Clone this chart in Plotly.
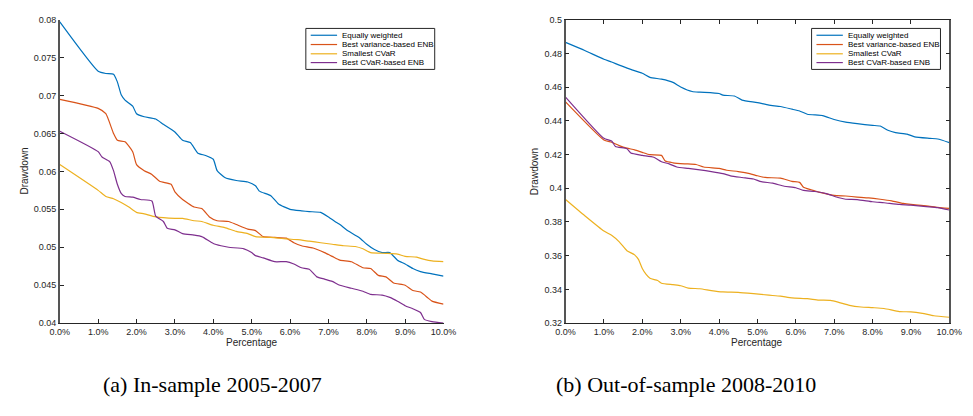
import plotly.graph_objects as go

W, H = 973, 416

series_names = ["Equally weighted", "Best variance-based ENB", "Smallest CVaR", "Best CVaR-based ENB"]
colors = ["#0072BD", "#D95319", "#EDB120", "#7E2F8E"]

x_ticks = [0, 1, 2, 3, 4, 5, 6, 7, 8, 9, 10]
x_tick_labels = ["0.0%", "1.0%", "2.0%", "3.0%", "4.0%", "5.0%", "6.0%", "7.0%", "8.0%", "9.0%", "10.0%"]
left_y_ticks = [0.04, 0.045, 0.05, 0.055, 0.06, 0.065, 0.07, 0.075, 0.08]
left_y_labels = ["0.04", "0.045", "0.05", "0.055", "0.06", "0.065", "0.07", "0.075", "0.08"]
right_y_ticks = [0.32, 0.34, 0.36, 0.38, 0.40, 0.42, 0.44, 0.46, 0.48, 0.50]
right_y_labels = ["0.32", "0.34", "0.36", "0.38", "0.4", "0.42", "0.44", "0.46", "0.48", "0.5"]

# ---- (a) In-sample 2005-2007 ----
in_eq_x = [0, 1.0, 1.2, 1.4, 1.5, 1.6, 1.7, 1.9, 2.0, 2.2, 2.5, 2.7, 3.0, 3.2, 3.4, 3.6, 3.8, 4.0, 4.1, 4.3, 4.6, 4.9,
           5.1, 5.2, 5.5, 5.7, 6.0, 6.3, 6.5, 6.8, 7.0, 7.2, 7.3, 7.5, 7.8, 8.0, 8.2, 8.4, 8.6, 8.8, 9.0, 9.2, 9.4, 9.7, 10.0]
in_eq_y = [0.0797, 0.0732, 0.0729, 0.0728, 0.0718, 0.0701, 0.0694, 0.0686, 0.0676, 0.0672, 0.0669, 0.0662, 0.0652,
           0.0641, 0.0638, 0.0624, 0.0621, 0.0616, 0.0601, 0.0592, 0.0588, 0.0586, 0.0581, 0.0574, 0.0568, 0.0557,
           0.0550, 0.0548, 0.0547, 0.0546, 0.0540, 0.0533, 0.0530, 0.0522, 0.0513, 0.0504, 0.0497, 0.0493, 0.0493,
           0.0483, 0.0478, 0.0472, 0.0468, 0.0465, 0.0462]

in_var_x = [0, 1.0, 1.2, 1.4, 1.5, 1.7, 1.9, 2.0, 2.2, 2.4, 2.6, 2.9, 3.0, 3.2, 3.5, 3.7, 3.9, 4.1, 4.4, 4.6, 4.9, 5.1,
            5.3, 5.6, 5.9, 6.1, 6.3, 6.6, 6.9, 7.1, 7.3, 7.6, 7.9, 8.1, 8.3, 8.5, 8.7, 9.0, 9.2, 9.4, 9.6, 9.7, 10.0]
in_var_y = [0.0695, 0.0683, 0.0676, 0.0650, 0.0641, 0.0639, 0.0626, 0.0609, 0.0601, 0.0596, 0.0587, 0.0583, 0.0573,
            0.0563, 0.0553, 0.0551, 0.0540, 0.0535, 0.0534, 0.0530, 0.0524, 0.0522, 0.0514, 0.0513, 0.0512, 0.0506,
            0.0502, 0.0499, 0.0493, 0.0488, 0.0483, 0.0481, 0.0473, 0.0472, 0.0463, 0.0461, 0.0453, 0.0450, 0.0443,
            0.0441, 0.0433, 0.0429, 0.0425]

in_cvar_x = [0, 1.0, 1.2, 1.4, 1.6, 1.8, 2.0, 2.2, 2.5, 3.0, 3.2, 3.5, 3.7, 4.0, 4.3, 4.6, 4.9, 5.1, 5.5, 5.9, 6.2,
             6.5, 6.8, 7.1, 7.4, 7.7, 7.9, 8.1, 8.5, 8.8, 9.0, 9.3, 9.5, 9.7, 10.0]
in_cvar_y = [0.0609, 0.0575, 0.0567, 0.0564, 0.0559, 0.0553, 0.0546, 0.0544, 0.0540, 0.0538, 0.0538, 0.0535, 0.0534,
             0.0529, 0.0526, 0.0521, 0.0518, 0.0514, 0.0513, 0.0511, 0.0510, 0.0508, 0.0506, 0.0504, 0.0502, 0.0501,
             0.0498, 0.0493, 0.0492, 0.0491, 0.0488, 0.0487, 0.0484, 0.0482, 0.0481]

in_cenb_x = [0, 1.0, 1.1, 1.3, 1.4, 1.5, 1.6, 1.7, 1.9, 2.1, 2.4, 2.5, 2.7, 2.8, 3.0, 3.2, 3.5, 3.7, 4.0, 4.2, 4.4, 4.8,
             5.0, 5.1, 5.3, 5.6, 5.9, 6.1, 6.3, 6.5, 6.7, 6.9, 7.1, 7.3, 7.6, 7.9, 8.1, 8.4, 8.6, 8.8, 9.0, 9.2, 9.4,
             9.5, 9.7, 10.0]
in_cenb_y = [0.0653, 0.0626, 0.0619, 0.0613, 0.0601, 0.0583, 0.0571, 0.0567, 0.0566, 0.0563, 0.0561, 0.0541, 0.0534,
             0.0525, 0.0523, 0.0518, 0.0516, 0.0514, 0.0505, 0.0502, 0.0500, 0.0498, 0.0493, 0.0489, 0.0486, 0.0481,
             0.0481, 0.0478, 0.0473, 0.0471, 0.0461, 0.0458, 0.0455, 0.0450, 0.0446, 0.0442, 0.0438, 0.0437, 0.0434,
             0.0429, 0.0423, 0.0419, 0.0414, 0.0405, 0.0402, 0.0400]

# ---- (b) Out-of-sample 2008-2010 ----
out_eq_x = [0, 0.5, 1.0, 1.2, 1.4, 1.7, 2.0, 2.2, 2.5, 2.8, 3.0, 3.3, 3.5, 4.0, 4.1, 4.4, 4.6, 5.0, 5.3, 5.6, 5.9, 6.1,
            6.3, 6.7, 7.0, 7.3, 7.6, 8.0, 8.2, 8.4, 8.6, 8.9, 9.1, 9.5, 9.7, 10.0]
out_eq_y = [0.4865, 0.4817, 0.4765, 0.4749, 0.4730, 0.4705, 0.4682, 0.4658, 0.4647, 0.4628, 0.4601, 0.4574, 0.4570,
            0.4562, 0.4552, 0.4547, 0.4523, 0.4508, 0.4493, 0.4485, 0.4469, 0.4458, 0.4439, 0.4431, 0.4408, 0.4392,
            0.4383, 0.4373, 0.4369, 0.4344, 0.4330, 0.4321, 0.4305, 0.4296, 0.4292, 0.4271]

out_var_x = [0, 1.0, 1.2, 1.4, 1.6, 1.8, 2.0, 2.2, 2.5, 2.6, 2.8, 3.1, 3.4, 3.6, 4.0, 4.2, 4.5, 4.8, 5.0, 5.2, 5.6, 5.9,
             6.1, 6.2, 6.4, 6.6, 7.0, 7.3, 7.6, 7.9, 8.2, 8.5, 8.8, 9.0, 9.4, 9.7, 10.0]
out_var_y = [0.4512, 0.4286, 0.4273, 0.4253, 0.4238, 0.4228, 0.4213, 0.4199, 0.4195, 0.4161, 0.4151, 0.4145, 0.4141,
             0.4126, 0.4118, 0.4107, 0.4099, 0.4087, 0.4074, 0.4064, 0.4060, 0.4041, 0.4035, 0.4006, 0.3991, 0.3977,
             0.3958, 0.3954, 0.3948, 0.3943, 0.3935, 0.3925, 0.3910, 0.3904, 0.3896, 0.3887, 0.3881]

out_cvar_x = [0, 0.5, 1.0, 1.2, 1.4, 1.6, 1.8, 1.9, 2.0, 2.1, 2.2, 2.4, 2.5, 2.8, 3.0, 3.2, 3.5, 3.8, 4.1, 4.5, 4.9, 5.3,
              5.6, 5.9, 6.3, 6.6, 6.9, 7.1, 7.4, 7.7, 8.0, 8.3, 8.7, 9.0, 9.3, 9.6, 10.0]
out_cvar_y = [0.3933, 0.3837, 0.3746, 0.3721, 0.3682, 0.3630, 0.3605, 0.3578, 0.3524, 0.3489, 0.3466, 0.3453, 0.3437,
              0.3428, 0.3422, 0.3408, 0.3404, 0.3393, 0.3385, 0.3383, 0.3375, 0.3366, 0.3360, 0.3350, 0.3345, 0.3337,
              0.3335, 0.3325, 0.3306, 0.3296, 0.3292, 0.3287, 0.3269, 0.3267, 0.3258, 0.3244, 0.3235]

out_cenb_x = [0, 1.0, 1.2, 1.3, 1.6, 1.7, 2.0, 2.3, 2.5, 2.7, 2.9, 3.2, 3.5, 3.8, 4.1, 4.3, 4.6, 4.9, 5.1, 5.4, 5.7,
              6.0, 6.2, 6.5, 6.8, 7.1, 7.3, 7.6, 8.0, 8.3, 8.7, 9.0, 9.4, 9.7, 10.0]
out_cenb_y = [0.4541, 0.4296, 0.4280, 0.4248, 0.4234, 0.4209, 0.4195, 0.4184, 0.4157, 0.4145, 0.4126, 0.4118, 0.4109,
              0.4099, 0.4087, 0.4074, 0.4064, 0.4055, 0.4039, 0.4030, 0.4012, 0.4003, 0.3987, 0.3981, 0.3968, 0.3945,
              0.3935, 0.3933, 0.3920, 0.3914, 0.3904, 0.3900, 0.3891, 0.3885, 0.3871]

captions = ["(a) In-sample 2005-2007", "(b) Out-of-sample 2008-2010"]
x_title = "Percentage"
y_title = "Drawdown"


def px(x):
    return x / W


def py(y):
    return 1 - y / H


TICK_FONT = dict(family="Liberation Sans, Arial, sans-serif", size=9, color="#262626")
AX = "#262626"

fig = go.Figure()

left = [(in_eq_x, in_eq_y), (in_var_x, in_var_y), (in_cvar_x, in_cvar_y), (in_cenb_x, in_cenb_y)]
right = [(out_eq_x, out_eq_y), (out_var_x, out_var_y), (out_cvar_x, out_cvar_y), (out_cenb_x, out_cenb_y)]

for (xs, ys), name, c in zip(left, series_names, colors):
    fig.add_trace(go.Scatter(x=xs, y=ys, mode="lines", name=name,
                             line=dict(color=c, width=1.2, shape="spline", smoothing=0.5),
                             xaxis="x", yaxis="y", showlegend=False))
for (xs, ys), name, c in zip(right, series_names, colors):
    fig.add_trace(go.Scatter(x=xs, y=ys, mode="lines", name=name,
                             line=dict(color=c, width=1.2, shape="spline", smoothing=0.5),
                             xaxis="x2", yaxis="y2", showlegend=False))

L = (51, 444)
R = (569, 962)
TOP, BOT = 15, 326

common_x = dict(range=[0, 10], tickvals=x_ticks, ticktext=x_tick_labels, ticks="inside", ticklen=4,
                tickcolor=AX, showline=True, linecolor=AX, linewidth=1, showgrid=False, zeroline=False,
                tickfont=TICK_FONT)

fig.update_layout(
    width=W, height=H, margin=dict(l=0, r=0, t=0, b=0),
    paper_bgcolor="white", plot_bgcolor="white",
    xaxis=dict(domain=[px(L[0]), px(L[1])], anchor="y", mirror=False, **common_x),
    yaxis=dict(domain=[py(BOT), py(TOP)], anchor="x", range=[0.04, 0.08], tickvals=left_y_ticks,
               ticktext=left_y_labels, ticks="inside", ticklen=4, tickcolor=AX, showline=True,
               linecolor="#555555", linewidth=1.5, showgrid=False, zeroline=False, tickfont=TICK_FONT),
    xaxis2=dict(domain=[px(R[0]), px(R[1])], anchor="y2", mirror="ticks", **common_x),
    yaxis2=dict(domain=[py(BOT), py(TOP)], anchor="x2", range=[0.32, 0.50], tickvals=right_y_ticks,
                ticktext=right_y_labels, ticks="inside", ticklen=4, tickcolor=AX, showline=True,
                linecolor="#555555", linewidth=1.5, mirror="ticks", showgrid=False, zeroline=False,
                tickfont=TICK_FONT),
)

annotations = []
shapes = []
LAB_FONT = dict(family="Liberation Sans, Arial, sans-serif", size=10, color="#262626")
for (x0, x1), ytx in [(L, 14.5), (R, 537.5)]:
    annotations.append(dict(text=x_title, x=px((x0 + x1) / 2), y=py(346), xref="paper", yref="paper",
                            showarrow=False, font=LAB_FONT, xanchor="center", yanchor="middle"))
    annotations.append(dict(text=y_title, x=px(ytx), y=py((TOP + BOT) / 2), xref="paper", yref="paper",
                            showarrow=False, font=LAB_FONT, textangle=-90, xanchor="center", yanchor="middle"))

# legends (drawn in paper coordinates)
LEG_FONT = dict(family="Liberation Sans, Arial, sans-serif", size=8, color="#000000")
row_y = [31, 40.5, 50, 59]
for bx0, bx1 in [(303, 435), (821, 953)]:
    shapes.append(dict(type="rect", xref="paper", yref="paper", x0=px(bx0), x1=px(bx1), y0=py(66), y1=py(24),
                       line=dict(color="#262626", width=1), fillcolor="white", layer="above"))
    for name, c, ry in zip(series_names, colors, row_y):
        shapes.append(dict(type="line", xref="paper", yref="paper", x0=px(bx0 + 5), x1=px(bx0 + 32),
                           y0=py(ry), y1=py(ry), line=dict(color=c, width=1.2), layer="above"))
        annotations.append(dict(text=name, x=px(bx0 + 35), y=py(ry), xref="paper", yref="paper",
                                showarrow=False, font=LEG_FONT, xanchor="left", yanchor="middle"))

CAP_FONT = dict(family="Liberation Serif, DejaVu Serif, serif", size=22, color="#000000")
for cap, cx in zip(captions, [207, 692]):
    annotations.append(dict(text=cap, x=px(cx), y=py(389), xref="paper", yref="paper", showarrow=False,
                            font=CAP_FONT, xanchor="center", yanchor="middle"))

fig.update_layout(annotations=annotations, shapes=shapes)
fig.write_html("out.html")
